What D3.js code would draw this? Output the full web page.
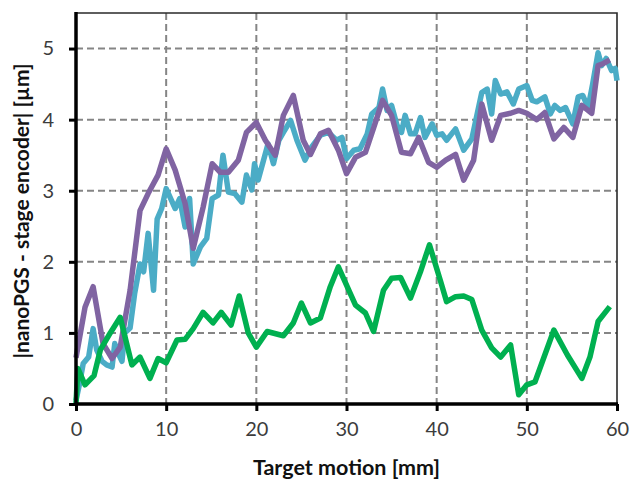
<!DOCTYPE html>
<html>
<head>
<meta charset="utf-8">
<script src="https://cdn.jsdelivr.net/npm/d3@7"></script>
<style>
  body { margin: 0; background: #fff; }
  text { font-family: Lato, "Open Sans", sans-serif; }
</style>
</head>
<body>
<div id="chart"></div>
<script>

// target motion [mm] and |nanoPGS - stage encoder| [um]
cyanX = [0,0.4,0.8,1.4,1.9,2.3,2.9,3.4,4,4.3,4.7,5.1,5.4,6,6.5,7.1,7.5,8,8.6,9,9.5,10,10.6,11,11.5,12.1,12.6,13,13.8,14.5,15.1,15.8,16.3,16.9,17.6,18.4,18.9,19.5,19.8,20.2,20.8,21.3,21.9,22.5,23,23.8,24.5,25.4,26.1,27.1,28,28.9,29.5,30,30.8,31.5,32.3,32.8,33.6,34,34.5,35,35.6,36.1,36.5,37.1,37.6,38.2,38.7,39.5,40,40.6,41.1,42.1,43,43.9,45,45.6,46.1,46.5,47.1,47.8,48.5,49.1,50,50.6,51.1,52,52.6,53.1,53.7,54.3,55.1,55.7,56.2,56.8,57.3,57.9,58.3,58.8,59.4,59.8,60]
cyanY = [0.05,0.29,0.57,0.66,1.06,0.76,0.6,0.55,0.52,0.85,0.71,0.6,1.0,1.07,1.55,1.97,1.86,2.4,1.6,2.6,2.75,3.03,2.86,2.75,2.89,2.49,2.89,1.97,2.21,2.33,2.89,2.94,3.5,2.98,2.96,2.84,3.22,3.01,3.38,3.15,3.43,3.66,3.38,3.71,3.82,3.99,3.71,3.43,3.61,3.78,3.82,3.71,3.75,3.45,3.57,3.59,3.8,4.08,4.17,4.43,4.13,4.2,3.92,3.82,4.06,3.8,3.8,4.03,3.75,3.94,3.78,3.8,3.71,3.87,3.57,3.73,4.38,4.43,4.08,4.55,4.36,4.39,4.22,4.43,4.48,4.27,4.25,4.32,4.08,4.2,4.13,4.17,3.94,4.32,4.34,4.17,4.5,4.94,4.76,4.86,4.69,4.72,4.55]

purpleX = [0,1,1.9,3,4,4.9,6,7.1,8,9.1,10,11,12.1,13,14.1,15.1,16,16.9,18,18.9,20,21,22.1,23,24.1,25.2,26,27.1,28,29.1,30,31,32.1,33,34,35,36.1,37.1,38,39.1,40,41,42.1,43,44.1,45,46.1,47.1,48.2,49.1,50,51.1,52,53,54.1,55.1,56.1,57.2,57.9,58.5,59.2]
purpleY = [0.65,1.36,1.65,0.85,0.64,0.8,1.6,2.72,2.96,3.22,3.59,3.29,2.82,2.19,2.77,3.38,3.26,3.26,3.43,3.82,3.96,3.71,3.5,4.06,4.34,3.71,3.51,3.8,3.85,3.57,3.24,3.47,3.54,3.88,4.27,4.06,3.54,3.52,3.75,3.4,3.33,3.43,3.51,3.15,3.43,4.22,3.71,4.06,4.09,4.13,4.09,4.0,4.1,3.73,3.89,3.75,4.2,4.09,4.76,4.79,4.84]

greenX = [0,0.2,1,2,2.7,3.8,4.9,6.2,7.1,8.2,9.1,10,11.2,12.1,13,14.1,15.2,16.1,17.2,18.1,19.1,20,21.2,23,24.1,25,26,27.1,28.2,29.1,30.4,31,32.1,33,34.1,35,36,37.1,38.2,39.2,40.4,41.1,42.1,43,43.9,45,46.1,47.1,48.2,49.1,50,50.9,53,54.5,56.1,57,57.9,59.2]
greenY = [0,0.5,0.27,0.4,0.76,1.0,1.22,0.55,0.66,0.36,0.64,0.58,0.9,0.91,1.06,1.29,1.14,1.29,1.11,1.52,1.0,0.8,1.02,0.96,1.14,1.42,1.14,1.21,1.65,1.93,1.56,1.39,1.28,1.02,1.6,1.77,1.78,1.49,1.86,2.24,1.74,1.44,1.51,1.52,1.47,1.04,0.79,0.66,0.83,0.13,0.27,0.31,1.04,0.69,0.36,0.66,1.16,1.37]

xTicks = [0,10,20,30,40,50,60]
yTicks = [0,1,2,3,4,5]
lineColors = ["#4BACC6","#8064A2","#00B050"]

xTitle = "Target motion [mm]"
yTitle = "|nanoPGS - stage encoder| [µm]"


var width = 630
var height = 480
var plotL = 76, plotR = 617, plotT = 13, plotB = 404

var svg = d3.select("#chart").append("svg")
  .attr("width",width)
  .attr("height",height)

svg.append("rect")
  .attr("width",width)
  .attr("height",height)
  .attr("fill","white")

var x = d3.scaleLinear().domain([0,60]).range([plotL,plotR])
var y = d3.scaleLinear().domain([0,5.5]).range([plotB,plotT])

// dashed grid
svg.append("g")
  .selectAll("line")
  .data(yTicks.slice(1))
  .enter()
  .append("line")
  .attr("x1",plotL).attr("x2",plotR)
  .attr("y1",function(d){ return y(d) })
  .attr("y2",function(d){ return y(d) })
  .attr("stroke","#858585")
  .attr("stroke-width",2)
  .attr("stroke-dasharray","7,4")

svg.append("g")
  .selectAll("line")
  .data(xTicks.slice(1,-1))
  .enter()
  .append("line")
  .attr("x1",function(d){ return x(d) })
  .attr("x2",function(d){ return x(d) })
  .attr("y1",plotT).attr("y2",plotB)
  .attr("stroke","#858585")
  .attr("stroke-width",2)
  .attr("stroke-dasharray","7,4")

// thin frame on top and right
svg.append("path")
  .attr("d","M"+plotL+","+plotT+"H"+plotR+"V"+plotB)
  .attr("fill","none")
  .attr("stroke","#2a2a2a")
  .attr("stroke-width",1.6)

// series
var seriesList = [
  {xs:cyanX, ys:cyanY, col:lineColors[0]},
  {xs:purpleX, ys:purpleY, col:lineColors[1]},
  {xs:greenX, ys:greenY, col:lineColors[2]}
]

var line = d3.line()
  .x(function(d){ return x(d[0]) })
  .y(function(d){ return y(d[1]) })

svg.append("g")
  .selectAll("path")
  .data(seriesList)
  .enter()
  .append("path")
  .attr("d",function(s){ return line(d3.zip(s.xs,s.ys)) })
  .attr("fill","none")
  .attr("stroke",function(s){ return s.col })
  .attr("stroke-width",5.5)
  .attr("stroke-linejoin","round")
  .attr("stroke-linecap","butt")

// axes
var xAxis = svg.append("g")
  .attr("transform","translate(0,"+plotB+")")
  .call(d3.axisBottom(x).tickValues(xTicks).tickFormat(d3.format("d")).tickSize(7).tickSizeOuter(0).tickPadding(11))

var yAxis = svg.append("g")
  .attr("transform","translate("+plotL+",0)")
  .call(d3.axisLeft(y).tickValues(yTicks).tickFormat(d3.format("d")).tickSize(7).tickSizeOuter(0).tickPadding(15))

xAxis.select(".domain").attr("d","M"+(plotL-1)+",0H"+(plotR+1)).attr("stroke","#000").attr("stroke-width",3.5)
yAxis.select(".domain").attr("d","M0,"+(plotT-1)+"V"+(plotB+1)).attr("stroke","#000").attr("stroke-width",3.5)

svg.selectAll(".tick line").attr("stroke","#000").attr("stroke-width",3)
svg.selectAll(".tick text")
  .attr("font-family","Lato, sans-serif")
  .attr("font-size",20)
  .attr("fill","#3c3c3c")

// titles
svg.append("text")
  .attr("x",(plotL+plotR)/2)
  .attr("y",475)
  .attr("text-anchor","middle")
  .attr("font-size",21.5)
  .attr("font-weight","bold")
  .attr("fill","#111")
  .text(xTitle)

svg.append("text")
  .attr("transform","translate(29,"+211+") rotate(-90)")
  .attr("text-anchor","middle")
  .attr("font-size",21)
  .attr("font-weight","bold")
  .attr("fill","#111")
  .text(yTitle)

</script>
</body>
</html>
